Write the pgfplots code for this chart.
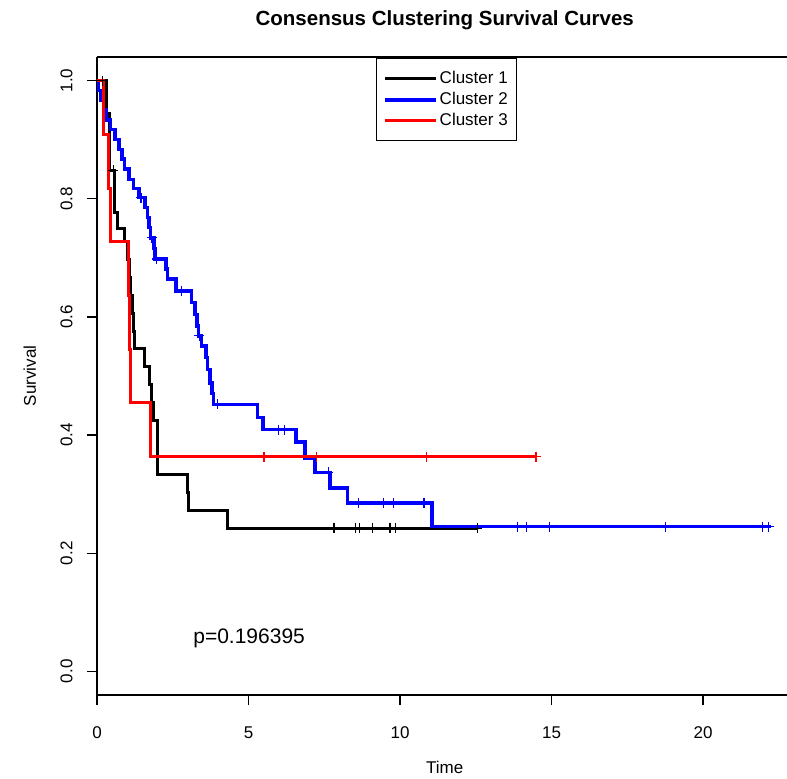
\documentclass[border=0pt]{standalone}
\usepackage{fontspec}
\setmainfont{Liberation Sans}
\usepackage{pgfplots}
\pgfplotsset{compat=1.18}

\definecolor{kmblue}{RGB}{0,0,255}
\definecolor{kmred}{RGB}{255,0,0}

\begin{document}
\begin{tikzpicture}
\path[use as bounding box] (-48.5pt,-42pt) rectangle (345pt,347.5pt);
\begin{axis}[
  at={(0pt,0pt)}, anchor=south west,
  scale only axis, width=345pt, height=319pt,
  xmin=0, xmax=22.77, ymin=-0.04, ymax=1.04,
  axis x line*=box, axis y line*=left,
  axis line style={line width=0.6pt, black},
  tick align=outside, major tick length=5pt,
  xtick pos=left, ytick pos=left,
  tick style={line width=0.6pt, black},
  xtick={0,5,10,15,20}, xticklabels={0,5,10,15,20},
  ytick={0,0.2,0.4,0.6,0.8,1}, yticklabels={0.0,0.2,0.4,0.6,0.8,1.0},
  tick label style={font=\fontsize{8.5}{10}\selectfont},
  xticklabel style={anchor=north, inner sep=0pt},
  yticklabel style={rotate=90, anchor=south, inner sep=0pt},
  xticklabel shift=10.5pt, yticklabel shift=7pt,
  title={Consensus Clustering Survival Curves},
  title style={at={(0.504,1)}, anchor=base, yshift=9.5pt, font=\bfseries\fontsize{10.25}{12}\selectfont},
  xlabel={Time}, ylabel={Survival},
  every axis x label/.style={at={(axis description cs:0.504,0)}, anchor=base, yshift=-39.5pt, font=\fontsize{8.5}{10}\selectfont},
  every axis y label/.style={at={(axis description cs:0,0.5)}, xshift=-30.5pt, rotate=90, anchor=base, font=\fontsize{8.5}{10}\selectfont},
  legend style={at={(0.5065,0.998)}, anchor=north, draw=black, line width=0.5pt,
    inner xsep=3.5pt, inner ysep=4.75pt, row sep=0pt,
    font=\fontsize{8.5}{10}\selectfont, cells={anchor=west},
    nodes={inner sep=1pt, text height=6.5pt, text depth=2pt},
    /tikz/every even column/.append style={column sep=4.5pt}},
  legend image code/.code={\path (0pt,0pt) -- (25.5pt,0pt);
    \draw[#1, line width=1.5pt] (3.75pt,0pt) -- (19.75pt,0pt);},
]
% Cluster 1
\addplot[const plot, black, line width=1.5pt] coordinates {
  (0,1) (0.31,0.945) (0.42,0.848) (0.58,0.777) (0.66,0.749) (0.92,0.727)
  (1.0,0.697) (1.07,0.667) (1.12,0.636) (1.17,0.606) (1.22,0.576) (1.25,0.546)
  (1.58,0.516) (1.73,0.485) (1.80,0.455) (1.88,0.424) (2.0,0.333)
  (3.0,0.303) (3.03,0.273) (4.3,0.242) (12.55,0.242)
};
\addlegendentry{Cluster 1}
\addplot[only marks, mark=+, mark size=2.5pt, black, mark options={line width=0.6pt}, forget plot] coordinates {
  (0.17,1.0) (0.54,0.848) (7.82,0.242) (8.53,0.242) (8.66,0.242) (9.09,0.242)
  (9.67,0.242) (9.86,0.242) (12.55,0.242)
};
% Cluster 2
\addplot[const plot, kmblue, line width=1.75pt] coordinates {
  (0,1.0) (0.05,0.983) (0.12,0.967) (0.22,0.950) (0.32,0.933) (0.45,0.917)
  (0.6,0.900) (0.72,0.883) (0.82,0.867) (0.9,0.850) (1.05,0.833) (1.2,0.817)
  (1.38,0.802) (1.58,0.785) (1.66,0.768) (1.72,0.751) (1.76,0.734) (1.88,0.716)
  (1.92,0.698) (2.28,0.681) (2.32,0.664) (2.61,0.644) (3.12,0.624) (3.23,0.604)
  (3.3,0.585) (3.35,0.568) (3.45,0.551) (3.6,0.531) (3.65,0.511) (3.73,0.488)
  (3.8,0.470) (3.85,0.452) (5.3,0.430) (5.47,0.409) (6.57,0.388) (6.86,0.361)
  (7.19,0.337) (7.69,0.310) (8.26,0.285) (11.05,0.245) (22.25,0.245)
};
\addlegendentry{Cluster 2}
\addplot[only marks, mark=+, mark size=2.5pt, kmblue, mark options={line width=0.6pt}, forget plot] coordinates {
  (1.45,0.802) (1.8,0.734) (1.97,0.698) (2.79,0.644) (3.38,0.568) (3.97,0.452)
  (6.0,0.409) (6.18,0.409) (7.63,0.337) (8.63,0.285) (9.45,0.285) (9.78,0.285)
  (10.79,0.285) (13.87,0.245) (14.17,0.245) (14.93,0.245) (18.75,0.245)
  (21.96,0.245) (22.16,0.245)
};
% Cluster 3
\addplot[const plot, kmred, line width=1.5pt] coordinates {
  (0,1.0) (0.23,0.909) (0.39,0.818) (0.46,0.727) (1.03,0.636) (1.06,0.545)
  (1.09,0.4545) (1.77,0.3636) (14.49,0.3636)
};
\addlegendentry{Cluster 3}
\addplot[only marks, mark=+, mark size=2.5pt, kmred, mark options={line width=0.6pt}, forget plot] coordinates {
  (5.51,0.3636) (7.25,0.3636) (10.88,0.3636) (14.49,0.3636)
};
\node[font=\fontsize{10.5}{12}\selectfont] at (axis cs:5.02,0.056) {p=0.196395};
\end{axis}
\end{tikzpicture}
\end{document}
